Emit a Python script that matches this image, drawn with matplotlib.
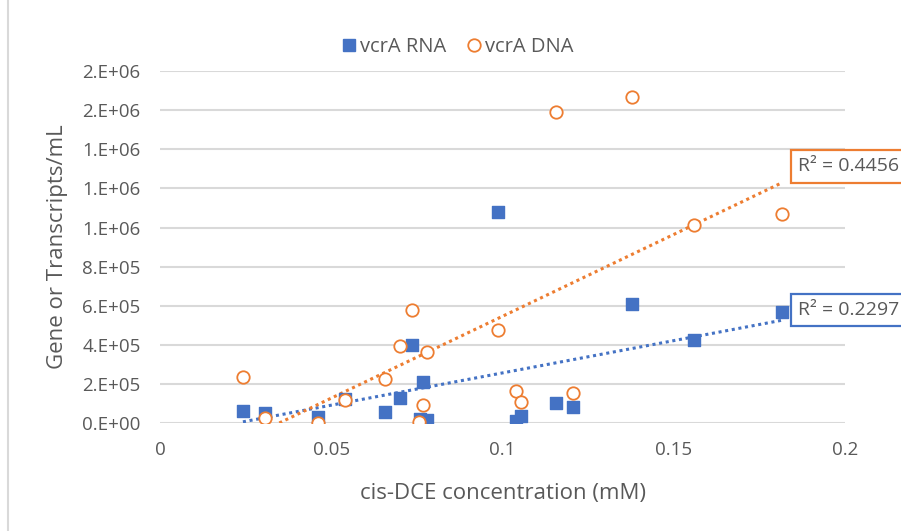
import numpy as np
import matplotlib.pyplot as plt
from matplotlib.lines import Line2D

# values
rna_x = [0.0242, 0.0307, 0.046, 0.054, 0.0657, 0.070, 0.0736, 0.0768, 0.076,
         0.078, 0.0987, 0.104, 0.1055, 0.1156, 0.1206, 0.1378, 0.156, 0.1816]
rna_y = [6.1e4, 5.1e4, 3.0e4, 1.22e5, 5.6e4, 1.28e5, 4.0e5, 2.1e5, 2.0e4,
         1.5e4, 1.08e6, 1.0e4, 3.5e4, 1.02e5, 8.2e4, 6.07e5, 4.23e5, 5.7e5]
dna_x = [0.0242, 0.0307, 0.046, 0.054, 0.0657, 0.070, 0.0736, 0.078, 0.0768,
         0.0756, 0.0987, 0.104, 0.1055, 0.1156, 0.1206, 0.1378, 0.156, 0.1816]
dna_y = [2.35e5, 2.5e4, 0.0, 1.17e5, 2.25e5, 3.93e5, 5.8e5, 3.62e5, 9.2e4,
         5.0e3, 4.74e5, 1.63e5, 1.07e5, 1.59e6, 1.53e5, 1.67e6, 1.015e6, 1.07e6]
r2_labels = ['R² = 0.2297', 'R² = 0.4456']

y_ticks = [0, 2e5, 4e5, 6e5, 8e5, 1.0e6, 1.2e6, 1.4e6, 1.6e6, 1.8e6]
y_ticklabels = ['0.E+00', '2.E+05', '4.E+05', '6.E+05', '8.E+05',
                '1.E+06', '1.E+06', '1.E+06', '2.E+06', '2.E+06']
x_ticks = [0, 0.05, 0.1, 0.15, 0.2]
x_ticklabels = ['0', '0.05', '0.1', '0.15', '0.2']

BLUE = '#4472C4'
ORANGE = '#ED7D31'
GREY = '#595959'

plt.rcParams['font.family'] = ['Open Sans', 'DejaVu Sans']

fig = plt.figure(figsize=(9.01, 5.31), dpi=100)
ax = fig.add_axes([0.1776, 0.2034, 0.7604, 0.6626])

ax.scatter(rna_x, rna_y, marker='s', s=64, color=BLUE, zorder=3, label='vcrA RNA')
ax.scatter(dna_x, dna_y, marker='o', s=80, facecolors='white', edgecolors=ORANGE,
           linewidths=1.3, zorder=4, label='vcrA DNA')

# linear trendlines over the data range
for xs, ys, col in [(rna_x, rna_y, BLUE), (dna_x, dna_y, ORANGE)]:
    k, b = np.polyfit(xs, ys, 1)
    xx = np.linspace(min(xs), max(xs), 200)
    ax.plot(xx, k * xx + b, linestyle=(0, (1, 1.2)), color=col, linewidth=2.2, zorder=2)

ax.set_xlim(0, 0.2)
ax.set_ylim(0, 1.8e6)
ax.set_xticks(x_ticks)
ax.set_xticklabels(x_ticklabels)
ax.set_yticks(y_ticks)
ax.set_yticklabels(y_ticklabels)
ax.tick_params(length=0, labelsize=13.5, colors=GREY)
ax.tick_params(axis='y', pad=14)
ax.tick_params(axis='x', pad=13)
ax.grid(axis='y', color='#D9D9D9', linewidth=1.5)
ax.set_axisbelow(True)
for s in ax.spines.values():
    s.set_visible(False)

ax.set_xlabel('cis-DCE concentration (mM)', fontsize=16, color=GREY, labelpad=17)
ax.set_ylabel('Gene or Transcripts/mL', fontsize=16, color=GREY, labelpad=10)

# R² boxes (run past the right edge like the reference)
fig.text(0.8857, 0.416, r2_labels[0], fontsize=14, color=GREY, va='center', ha='left',
         bbox=dict(boxstyle='square,pad=0.38', fc='white', ec=BLUE, lw=1.6))
fig.text(0.8857, 0.687, r2_labels[1], fontsize=14, color=GREY, va='center', ha='left',
         bbox=dict(boxstyle='square,pad=0.38', fc='white', ec=ORANGE, lw=1.6))

handles = [Line2D([0], [0], marker='s', linestyle='', color=BLUE, markersize=8),
           Line2D([0], [0], marker='o', linestyle='', markerfacecolor='white',
                  markeredgecolor=ORANGE, markeredgewidth=1.3, markersize=9)]
fig.legend(handles, ['vcrA RNA', 'vcrA DNA'], loc='center', bbox_to_anchor=(0.507, 0.911),
           ncol=2, frameon=False, fontsize=14.5, labelcolor=GREY, handletextpad=0.1,
           columnspacing=0.9, handlelength=0.9)

fig.add_artist(Line2D([0.009, 0.009], [0, 1], color='#D9D9D9', linewidth=1.5))

fig.savefig('out.png', dpi=100)
